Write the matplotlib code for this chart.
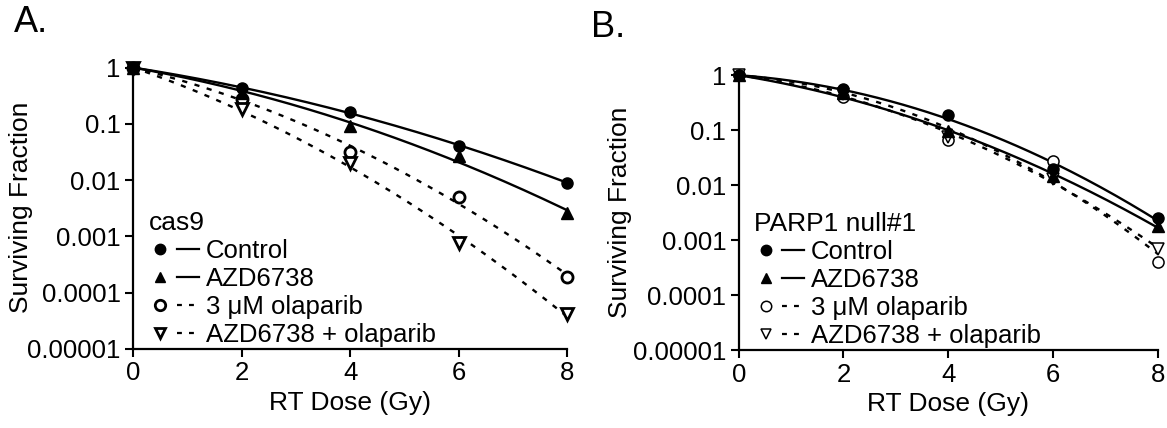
import matplotlib
matplotlib.use('Agg')
import matplotlib.pyplot as plt
from matplotlib.lines import Line2D
from matplotlib.legend_handler import HandlerTuple
from matplotlib.ticker import FixedLocator, LogLocator, NullFormatter
import numpy as np

plt.rcParams['font.family'] = ['Liberation Sans', 'DejaVu Sans']

# ── Data ────────────────────────────────────────────────────────────────
dose = [0, 2, 4, 6, 8]

# panel A: cas9
a_control = [1.0, 0.43, 0.16, 0.041, 0.009]
a_azd     = [1.0, 0.35, 0.093, 0.027, 0.0026]
a_olap    = [1.0, 0.28, 0.032, 0.0049, 0.00019]
a_combo   = [1.0, 0.18, 0.02, 0.00077, 0.000042]

# panel B: PARP1 null#1
b_control = [1.0, 0.55, 0.19, 0.02, 0.0025]
b_azd     = [1.0, 0.47, 0.095, 0.0145, 0.0018]
b_olap    = [1.0, 0.40, 0.066, 0.027, 0.0004]
b_combo   = [1.0, 0.45, 0.075, 0.013, 0.0007]

labels = ['Control', 'AZD6738', '3 \u03bcM olaparib', 'AZD6738 + olaparib']
yticks = [1, 0.1, 0.01, 0.001, 0.0001, 0.00001]
ytick_labels = ['1', '0.1', '0.01', '0.001', '0.0001', '0.00001']

FS = 19
DOT = (0, (2.2, 3.2))


def lq_fit(d, s):
    # linear-quadratic fit through the origin: ln S = -(a D + b D^2)
    d = np.asarray(d, float)
    A = np.column_stack([d, d ** 2])
    coef, *_ = np.linalg.lstsq(A, -np.log(s), rcond=None)
    dd = np.linspace(0, 8, 200)
    return dd, np.exp(-(coef[0] * dd + coef[1] * dd ** 2))


def panel(ax, series, title, open_lw, ylab_x):
    styles = [
        dict(marker='o', mfc='black', ls='-'),
        dict(marker='^', mfc='black', ls='-'),
        dict(marker='o', mfc='white', ls=DOT),
        dict(marker='v', mfc='white', ls=DOT),
    ]
    handles = []
    for s, st, lab in zip(series, styles, labels):
        dd, fit = lq_fit(dose, s)
        ax.plot(dd, fit, color='black', lw=1.7, ls=st['ls'], zorder=2)
        is_open = st['mfc'] == 'white'
        mew = open_lw if is_open else 1.0
        ms = 8 if st['marker'] != 'v' else 8.5
        ax.plot(dose, s, ls='none', marker=st['marker'], ms=ms,
                mfc=st['mfc'], mec='black', mew=mew,
                zorder=3 if is_open else 4, clip_on=False)
        h_m = Line2D([], [], ls='none', marker=st['marker'], ms=7.5,
                     mfc=st['mfc'], mec='black', mew=mew)
        h_l = Line2D([], [], color='black', lw=1.6, ls=st['ls'])
        handles.append((h_m, h_l))

    ax.set_yscale('log')
    ax.set_ylim(1e-5, 1.05)
    ax.set_xlim(0, 8)
    ax.yaxis.set_major_locator(FixedLocator(yticks))
    ax.set_yticklabels(ytick_labels)
    ax.yaxis.set_minor_locator(LogLocator(base=10, subs=np.arange(2, 10)))
    ax.yaxis.set_minor_formatter(NullFormatter())
    ax.set_xticks([0, 2, 4, 6, 8])
    ax.tick_params(axis='both', which='major', direction='out', length=6,
                   width=1.5, labelsize=18.5, pad=3)
    ax.tick_params(axis='y', which='minor', direction='in', length=4, width=1.2)
    for sp in ['top', 'right']:
        ax.spines[sp].set_visible(False)
    for sp in ['left', 'bottom']:
        ax.spines[sp].set_linewidth(1.6)
    ax.set_xlabel('RT Dose (Gy)', fontsize=FS, labelpad=4)
    ax.set_ylabel('Surviving Fraction', fontsize=FS)
    ax.yaxis.set_label_coords(ylab_x, 0.5)

    leg = ax.legend(handles, labels, handler_map={tuple: HandlerTuple(ndivide=None, pad=0.2)},
                    loc='lower left', bbox_to_anchor=(0.025, -0.012), frameon=False,
                    fontsize=18.5, title=title, title_fontsize=FS,
                    alignment='left', labelspacing=0.16, handlelength=1.95,
                    handletextpad=0.25, borderpad=0.2, borderaxespad=0)
    return leg


fig = plt.figure(figsize=(11.67, 4.28), dpi=100)
axA = fig.add_axes([0.114, 0.185, 0.372, 0.66])
axB = fig.add_axes([0.633, 0.182, 0.359, 0.645])

panel(axA, [a_control, a_azd, a_olap, a_combo], 'cas9', 2.0, -0.23)
panel(axB, [b_control, b_azd, b_olap, b_combo], 'PARP1 null#1', 1.1, -0.255)

fig.text(0.012, 0.948, 'A.', fontsize=26, va='center', ha='left')
fig.text(0.506, 0.935, 'B.', fontsize=26, va='center', ha='left')

fig.savefig('out.png', dpi=100)
